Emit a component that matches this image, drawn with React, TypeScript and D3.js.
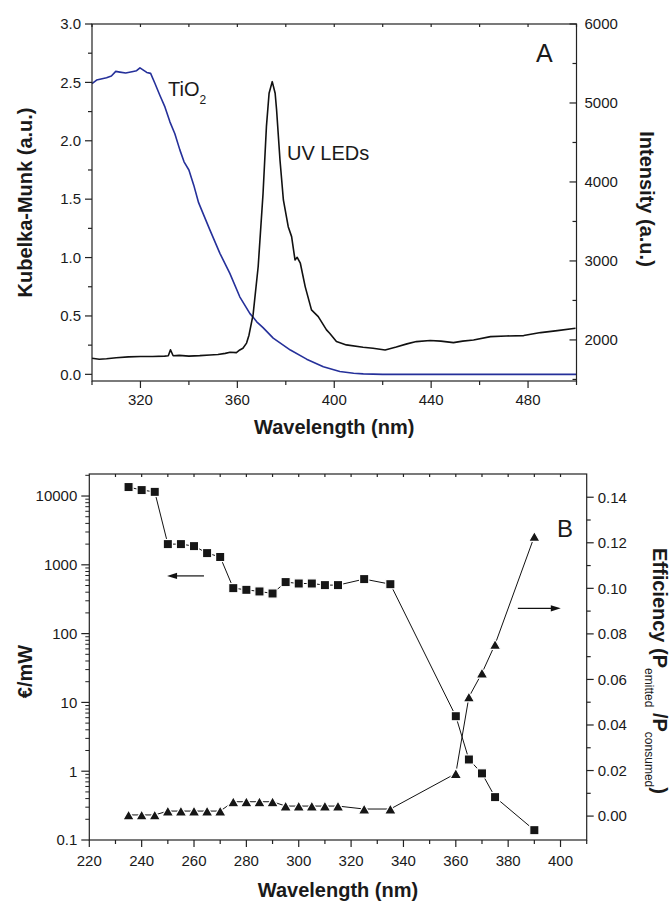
import React from 'react';
import * as d3 from 'd3';

// ---------- Panel A data ----------
const tioWavelength = [300, 301.9, 306, 308, 309.8, 311.5, 313.9, 317, 318.4, 319.8, 321.2, 322.6, 324.2, 326, 328, 330.1, 332.2, 334.2, 336.3, 338, 340, 342, 344, 346, 348.7, 352.8, 356.9, 361, 365.2, 366.5, 368, 370.6, 374.8, 381.9, 388.6, 395.5, 402.3, 408, 412, 420, 440, 460, 480, 500];
const tioKM = [2.49, 2.52, 2.54, 2.555, 2.594, 2.588, 2.58, 2.594, 2.6, 2.625, 2.605, 2.585, 2.577, 2.49, 2.39, 2.29, 2.16, 2.06, 1.92, 1.82, 1.75, 1.62, 1.47, 1.37, 1.235, 1.036, 0.865, 0.664, 0.52, 0.49, 0.45, 0.4, 0.31, 0.208, 0.13, 0.065, 0.025, 0.01, 0.004, 0.0, 0.0, 0.0, 0.0, 0.0];

const ledWavelength = [300, 303, 306, 310, 315, 320, 325, 330, 331.5, 332.4, 333.5, 336, 340, 344.5, 348.7, 352, 355, 357, 359.6, 361, 362.3, 363.8, 364.8, 366.5, 368.6, 370.6, 372, 373.1, 374.4, 375.6, 376.2, 377.6, 379, 381, 382.4, 383.8, 384.7, 386, 388, 390.6, 393.4, 396.8, 398.1, 400.9, 405, 411.9, 416, 421, 425.6, 430, 433.9, 439.6, 444, 449.2, 453, 457.5, 464.5, 471, 478.2, 485.2, 492.1, 499.6];
const ledIntensity = [1768, 1755, 1762, 1775, 1785, 1790, 1790, 1795, 1800, 1875, 1800, 1805, 1795, 1801, 1810, 1815, 1830, 1844, 1839, 1873, 1895, 1960, 2060, 2320, 2930, 3850, 4700, 5123, 5270, 5123, 4911, 4278, 3772, 3434, 3308, 3013, 3046, 2971, 2675, 2380, 2295, 2127, 2085, 1979, 1937, 1907, 1895, 1873, 1910, 1950, 1979, 1992, 1985, 1966, 1985, 2000, 2042, 2050, 2055, 2093, 2118, 2148];

const topXTicks = [320, 360, 400, 440, 480];
const topXMinor = [300, 340, 380, 420, 460, 500];
const topXTopTicks = [300, 320, 340, 360, 380, 400, 420, 440, 460, 480, 500];
const topLeftTicks = [0, 0.5, 1.0, 1.5, 2.0, 2.5, 3.0];
const topLeftMinor = [0.25, 0.75, 1.25, 1.75, 2.25, 2.75];
const topRightTicks = [2000, 3000, 4000, 5000, 6000];
const topRightMinor = [1500, 2500, 3500, 4500, 5500];

// ---------- Panel B data ----------
const ledPeakWavelength = [235, 240, 245, 250, 255, 260, 265, 270, 275, 280, 285, 290, 295, 300, 305, 310, 315, 325, 335, 360, 365, 370, 375, 390];
const costPerMW = [13500, 12200, 11500, 2000, 2000, 1870, 1480, 1300, 458, 433, 410, 383, 561, 535, 535, 507, 507, 620, 523, 6.3, 1.48, 0.93, 0.42, 0.139];
const efficiency = [0.0005, 0.0005, 0.0005, 0.0022, 0.0022, 0.0022, 0.0022, 0.0022, 0.0063, 0.0063, 0.0063, 0.0063, 0.0044, 0.0044, 0.0044, 0.0044, 0.0044, 0.0031, 0.0031, 0.0187, 0.0523, 0.0628, 0.0754, 0.1228];

const botXTicks = [220, 240, 260, 280, 300, 320, 340, 360, 380, 400];
const botXMinor = [230, 250, 270, 290, 310, 330, 350, 370, 390, 410];
const botXTopTicks = [230, 240, 250, 260, 270, 280, 290, 300, 310, 320, 330, 340, 350, 360, 370, 380, 390, 400];
const botLeftTicks = [0.1, 1, 10, 100, 1000, 10000];
const botRightTicks = [0, 0.02, 0.04, 0.06, 0.08, 0.1, 0.12, 0.14];
const botRightMinor = [0.01, 0.03, 0.05, 0.07, 0.09, 0.11, 0.13];

// annotation arrows (data units)
const arrowCost = { from: 263.8, to: 249.7, value: 690 };
const arrowEff = { from: 383.7, to: 400.1, value: 0.0912 };

const FONT = "'Liberation Sans', Arial, Helvetica, sans-serif";
const AX = '#222';
const TXT = '#1a1a1a';

export default function App() {
  const W = 672, H = 901;
  // panel A frame
  const ax0 = 92, ax1 = 576.5, ay0 = 24, ay1 = 381;
  const xA = d3.scaleLinear().domain([300, 500]).range([ax0, ax1]);
  const yAL = d3.scaleLinear().domain([-0.057, 3.0]).range([ay1, ay0]);
  const yAR = d3.scaleLinear().domain([1480, 6000]).range([ay1, ay0]);

  // panel B frame
  const bx0 = 89.3, bx1 = 586.7, by0 = 474, by1 = 840;
  const xB = d3.scaleLinear().domain([220, 410]).range([bx0, bx1]);
  const yBL = d3.scaleLog().domain([0.1, 20900]).range([by1, by0]);
  const yBR = d3.scaleLinear().domain([-0.0105, 0.1502]).range([by1, by0]);

  const tioLine = d3.line<number>().x((d, i) => xA(tioWavelength[i])).y((d) => yAL(d))(tioKM) || '';
  const ledLine = d3.line<number>().x((d, i) => xA(ledWavelength[i])).y((d) => yAR(d))(ledIntensity) || '';
  const costLine = d3.line<number>().x((d, i) => xB(ledPeakWavelength[i])).y((d) => yBL(d))(costPerMW) || '';
  const effLine = d3.line<number>().x((d, i) => xB(ledPeakWavelength[i])).y((d) => yBR(d))(efficiency) || '';

  const logMinor: number[] = [];
  for (let e = -1; e <= 4; e++) {
    for (let m = 2; m <= 9; m++) {
      const v = m * Math.pow(10, e);
      if (v <= 20900) logMinor.push(v);
    }
  }

  const fmtBL = (v: number) => (v < 1 ? String(v) : String(Math.round(v)));

  const ax = { stroke: AX, strokeWidth: 1.2 };

  const triPath = (cx: number, cy: number) => {
    const w = 11.5, h = 10;
    return `M${cx - w / 2},${cy + h / 2}L${cx + w / 2},${cy + h / 2}L${cx},${cy - h / 2}Z`;
  };

  const ya = yBL(arrowCost.value);
  const yb = yBR(arrowEff.value);

  return (
    <svg width={W} height={H} style={{ position: 'absolute', left: 0, top: 0, display: 'block', background: '#fff' }} fontFamily={FONT}>
      <rect x={0} y={0} width={W} height={H} fill="#fff" />

      {/* ================= Panel A ================= */}
      <g>
        {/* curves */}
        <path d={tioLine} fill="none" stroke="#25309a" strokeWidth={1.6} strokeLinejoin="round" />
        <path d={ledLine} fill="none" stroke="#111" strokeWidth={1.6} strokeLinejoin="round" />

        {/* frame */}
        <rect x={ax0} y={ay0} width={ax1 - ax0} height={ay1 - ay0} fill="none" {...ax} />

        {/* left ticks */}
        {topLeftTicks.map((v) => (
          <g key={'al' + v}>
            <line x1={ax0 - 7} x2={ax0} y1={yAL(v)} y2={yAL(v)} {...ax} />
            <text x={ax0 - 11} y={yAL(v) + 5.3} textAnchor="end" fontSize={15} fill={TXT}>{v.toFixed(1)}</text>
          </g>
        ))}
        {topLeftMinor.map((v) => (
          <line key={'alm' + v} x1={ax0 - 4} x2={ax0} y1={yAL(v)} y2={yAL(v)} {...ax} />
        ))}

        {/* right ticks (inward) */}
        {topRightTicks.map((v) => (
          <g key={'ar' + v}>
            <line x1={ax1 - 7} x2={ax1} y1={yAR(v)} y2={yAR(v)} {...ax} />
            <text x={ax1 + 8} y={yAR(v) + 5.3} textAnchor="start" fontSize={15} fill={TXT}>{v}</text>
          </g>
        ))}
        {topRightMinor.map((v) => (
          <line key={'arm' + v} x1={ax1 - 4} x2={ax1} y1={yAR(v)} y2={yAR(v)} {...ax} />
        ))}

        {/* bottom ticks */}
        {topXTicks.map((v) => (
          <g key={'ab' + v}>
            <line x1={xA(v)} x2={xA(v)} y1={ay1} y2={ay1 + 7} {...ax} />
            <text x={xA(v)} y={ay1 + 24} textAnchor="middle" fontSize={15} fill={TXT}>{v}</text>
          </g>
        ))}
        {topXMinor.map((v) => (
          <line key={'abm' + v} x1={xA(v)} x2={xA(v)} y1={ay1} y2={ay1 + 4} {...ax} />
        ))}
        {/* top ticks */}
        {topXTopTicks.map((v) => (
          <line key={'at' + v} x1={xA(v)} x2={xA(v)} y1={ay0} y2={ay0 + 3} {...ax} />
        ))}

        {/* titles */}
        <text transform={`translate(32,${(ay0 + ay1) / 2}) rotate(-90)`} textAnchor="middle" fontSize={20} fontWeight="bold" fill={TXT}>Kubelka-Munk (a.u.)</text>
        <text transform={`translate(640,199) rotate(90)`} textAnchor="middle" fontSize={20} fontWeight="bold" fill={TXT}>Intensity (a.u.)</text>
        <text x={(ax0 + ax1) / 2} y={434} textAnchor="middle" fontSize={20} fontWeight="bold" fill={TXT}>Wavelength (nm)</text>

        {/* annotations */}
        <text x={168} y={96} fontSize={20} fill={TXT}>TiO<tspan fontSize={12} dy={8}>2</tspan></text>
        <text x={287} y={160} fontSize={20} fill={TXT}>UV LEDs</text>
        <text x={536} y={62} fontSize={25} fill={TXT}>A</text>
      </g>

      {/* ================= Panel B ================= */}
      <g>
        <path d={costLine} fill="none" stroke="#111" strokeWidth={1} />
        <path d={effLine} fill="none" stroke="#111" strokeWidth={1} />

        {costPerMW.map((v, i) => (
          <rect key={'sq' + i} x={xB(ledPeakWavelength[i]) - 4.6} y={yBL(v) - 4.6} width={9.2} height={9.2} fill="#161616" stroke="#fff" strokeWidth={1.2} />
        ))}
        {efficiency.map((v, i) => (
          <path key={'tr' + i} d={triPath(xB(ledPeakWavelength[i]), yBR(v))} fill="#161616" stroke="#fff" strokeWidth={1.2} />
        ))}

        {/* frame */}
        <rect x={bx0} y={by0} width={bx1 - bx0} height={by1 - by0} fill="none" {...ax} />

        {/* left log ticks */}
        {botLeftTicks.map((v) => (
          <g key={'bl' + v}>
            <line x1={bx0 - 8} x2={bx0} y1={yBL(v)} y2={yBL(v)} {...ax} />
            <text x={bx0 - 12} y={yBL(v) + 5.3} textAnchor="end" fontSize={15} fill={TXT}>{fmtBL(v)}</text>
          </g>
        ))}
        {logMinor.map((v) => (
          <line key={'blm' + v} x1={bx0 - 4} x2={bx0} y1={yBL(v)} y2={yBL(v)} stroke={AX} strokeWidth={1} />
        ))}

        {/* right ticks (outward) */}
        {botRightTicks.map((v) => (
          <g key={'br' + v}>
            <line x1={bx1} x2={bx1 + 7} y1={yBR(v)} y2={yBR(v)} {...ax} />
            <text x={bx1 + 11} y={yBR(v) + 5.3} textAnchor="start" fontSize={15} fill={TXT}>{v.toFixed(2)}</text>
          </g>
        ))}
        {botRightMinor.map((v) => (
          <line key={'brm' + v} x1={bx1} x2={bx1 + 4} y1={yBR(v)} y2={yBR(v)} {...ax} />
        ))}

        {/* bottom ticks */}
        {botXTicks.map((v) => (
          <g key={'bb' + v}>
            <line x1={xB(v)} x2={xB(v)} y1={by1} y2={by1 + 7} {...ax} />
            <text x={xB(v)} y={by1 + 26} textAnchor="middle" fontSize={15} fill={TXT}>{v}</text>
          </g>
        ))}
        {botXMinor.map((v) => (
          <line key={'bbm' + v} x1={xB(v)} x2={xB(v)} y1={by1} y2={by1 + 4} {...ax} />
        ))}
        {botXTopTicks.map((v) => (
          <line key={'bt' + v} x1={xB(v)} x2={xB(v)} y1={by0} y2={by0 + 3} {...ax} />
        ))}

        {/* arrows */}
        <line x1={xB(arrowCost.from)} x2={xB(arrowCost.to) + 8} y1={ya} y2={ya} stroke="#111" strokeWidth={1.2} />
        <path d={`M${xB(arrowCost.to)},${ya}L${xB(arrowCost.to) + 10},${ya - 3.2}L${xB(arrowCost.to) + 10},${ya + 3.2}Z`} fill="#111" />
        <line x1={xB(arrowEff.from)} x2={xB(arrowEff.to) - 8} y1={yb} y2={yb} stroke="#111" strokeWidth={1.2} />
        <path d={`M${xB(arrowEff.to)},${yb}L${xB(arrowEff.to) - 10},${yb - 3.2}L${xB(arrowEff.to) - 10},${yb + 3.2}Z`} fill="#111" />

        {/* titles */}
        <text transform={`translate(32,671.5) rotate(-90)`} textAnchor="middle" fontSize={20} fontWeight="bold" fill={TXT}>€/mW</text>
        <text transform={`translate(653,548) rotate(90)`} textAnchor="start" fontSize={20} fontWeight="bold" fill={TXT}>
          Efficiency (P<tspan fontSize={12} fontWeight="normal" dy={8}>emitted</tspan><tspan dy={-8}> /P</tspan><tspan fontSize={12} fontWeight="normal" dy={8}>consumed</tspan><tspan dy={-8}>)</tspan>
        </text>
        <text x={(bx0 + bx1) / 2} y={897} textAnchor="middle" fontSize={20} fontWeight="bold" fill={TXT}>Wavelength (nm)</text>

        <text x={557} y={537} fontSize={24} fill={TXT}>B</text>
      </g>
    </svg>
  );
}
